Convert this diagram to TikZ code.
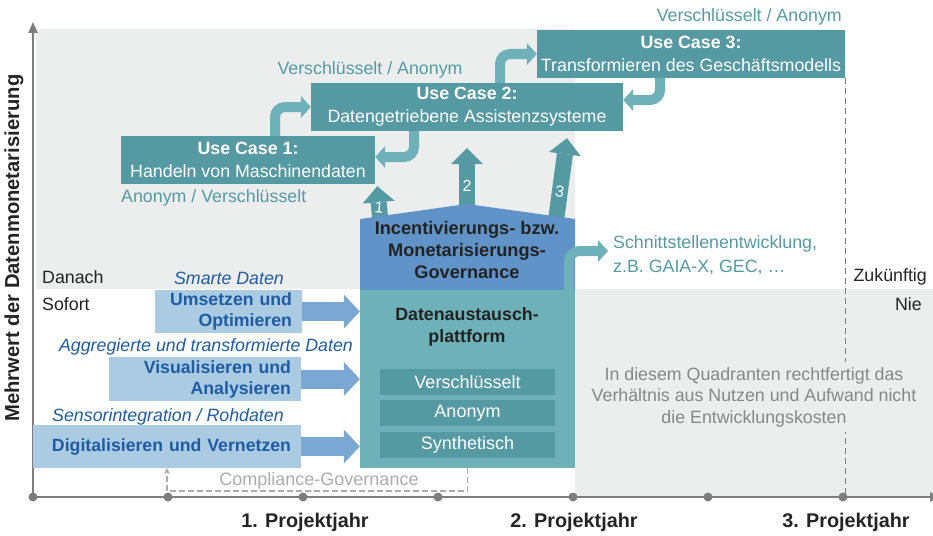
\documentclass[tikz,border=0pt]{standalone}
\usepackage{fontspec}
\setmainfont{Liberation Sans}
\usepackage{tikz}
\usetikzlibrary{positioning, arrows.meta}

\definecolor{bggray}{RGB}{236,237,237}
\definecolor{ucteal}{RGB}{85,153,163}
\definecolor{lteal}{RGB}{110,177,184}
\definecolor{noteteal}{RGB}{84,155,166}
\definecolor{govblue}{RGB}{96,148,200}
\definecolor{lblue}{RGB}{170,203,226}
\definecolor{ablue}{RGB}{123,167,211}
\definecolor{tblue}{RGB}{30,92,165}
\definecolor{axisgray}{RGB}{125,125,125}
\definecolor{compgray}{RGB}{172,172,172}
\definecolor{qgray}{RGB}{135,135,135}
\definecolor{darktext}{RGB}{35,35,35}

\begin{document}
\begin{tikzpicture}[x=1pt, y=-1pt,
  every node/.style={font=\fontsize{17.8}{22}\selectfont, inner sep=0pt},
  usecase/.style={fill=ucteal, text=white, align=center, minimum height=48pt,
                  font=\fontsize{17.8}{23}\selectfont},
  note/.style={text=noteteal},
  loopar/.style={draw=lteal, line width=10pt, rounded corners=10pt,
                 -{Triangle[length=10pt, width=22pt, line width=0pt]}},
  bigar/.style={draw=ucteal, line width=16pt,
                -{Triangle[length=16pt, width=32pt, line width=0pt]}},
  stepar/.style={draw=ablue, line width=19pt,
                 -{Triangle[length=16pt, width=34pt, line width=0pt]}},
  stepbox/.style={fill=lblue, text=tblue, align=right, inner xsep=10pt,
                  minimum height=43pt, font=\fontsize{17.7}{21}\selectfont\bfseries},
  steplbl/.style={text=tblue, font=\fontsize{17.8}{21}\selectfont\itshape},
  privbox/.style={fill=ucteal, text=white, minimum width=175pt, minimum height=26pt,
                  font=\fontsize{18}{21}\selectfont},
  numlbl/.style={text=white, font=\fontsize{16}{18}\selectfont},
  axisline/.style={draw=axisgray, line width=2pt},
  year/.style={text=darktext, font=\fontsize{19.8}{22}\selectfont\bfseries},
  plain/.style={text=darktext},
]
\useasboundingbox (0,0) rectangle (933,535);
% Quadranten
\fill[bggray] (36,29) rectangle (575,289);
\fill[bggray] (575,289) rectangle (933,496);

% Achsen
\coordinate (o) at (33,497);
\draw[axisline, -{Triangle[length=11pt, width=9pt]}] (o) -- (33,22);
\draw[axisline, -{Triangle[length=11pt, width=9pt]}] (o) -- (941,497);
\foreach \i in {0,...,6}
  \fill[axisgray] (33+135*\i,497) circle (4.5pt);
\foreach \x/\j in {305/1, 574/2, 846/3}
  \node[year] (year\j) at (\x,522) {\j. Projektjahr};
\node[rotate=90, text=darktext, font=\fontsize{20.2}{22}\selectfont\bfseries] (ylbl)
  at (14,248) {Mehrwert der Datenmonetarisierung};

\node[plain, anchor=west] (danach) at (42,277) {Danach};
\node[plain, anchor=west] (sofort) at (42,304) {Sofort};
\node[plain, anchor=east] (zukunft) at (927,277) {Zukünftig};
\node[plain, anchor=east] (nie) at (922,304) {Nie};

% Use Cases
\node[usecase, minimum width=254pt] (uc1) at (248,160) {{\bfseries Use Case 1:}\\Handeln von Maschinendaten};
\node[usecase, minimum width=312pt] (uc2) at (467,107) {{\bfseries Use Case 2:}\\Datengetriebene Assistenzsysteme};
\node[usecase, minimum width=308pt] (uc3) at (691,54) {{\bfseries Use Case 3:}\\Transformieren des Geschäftsmodells};

\node[note, anchor=west] (n1) at (121,198) {Anonym / Verschlüsselt};
\node[note] (n2) at (370,70) {Verschlüsselt / Anonym};
\node[note, anchor=east] (n3) at (842,17) {Verschlüsselt / Anonym};

\draw[loopar] ([xshift=27pt]uc1.north) |- (uc2.west);
\draw[loopar] ([xshift=-53pt]uc2.south) |- ([yshift=3pt]uc1.east);
\draw[loopar] ([xshift=33pt]uc2.north) |- (uc3.west);
\draw[loopar] ([xshift=-31pt]uc3.south) |- ([yshift=7pt]uc2.east);

\draw[axisgray, line width=1.2pt, dash pattern=on 6pt off 4pt] (uc3.south east) -- (uc3.south east |- o);

% Governance
\coordinate (peak) at (467,204);
\coordinate (g1) at (381,228);
\coordinate (g3) at (555,228);
\draw[bigar] (g1) -- node[numlbl, pos=0.48, rotate=-6] {1} ([shift={(2,2)}]uc1.south east);
\draw[bigar, shorten >=17pt] (peak |- g1) -- node[numlbl, pos=0.43] {2} (uc2.south);
\draw[bigar] (g3) -- node[numlbl, pos=0.4, rotate=-8] {3} ([shift={(100,7)}]uc2.south);

\fill[govblue] (360,219) -- (peak) -- (575,219) -- (575,290) -- (360,290) -- cycle;
\node[text=darktext, align=center, font=\fontsize{18.2}{22}\selectfont\bfseries] (gov)
  at (467,250) {Incentivierungs- bzw.\\Monetarisierungs-\\Governance};

% Plattform
\node[fill=lteal, minimum width=215pt, minimum height=178pt] (plat) at (467.5,379) {};
\node[text=darktext, align=center, font=\fontsize{17.8}{22}\selectfont\bfseries] (platlbl)
  at (467,327) {Datenaustausch-\\plattform};
\node[privbox] (enc) at (467.5,382) {Verschlüsselt};
\node[privbox, below=5pt of enc] (anon) {Anonym};
\node[privbox, below=5pt of anon] (synth) {Synthetisch};

\node[note, anchor=west, align=left, font=\fontsize{17.8}{24}\selectfont] (schn)
  at (613,255) {Schnittstellenentwicklung,\\z.B. GAIA-X, GEC, …};
\draw[loopar, shorten >=5pt] ([shift={(-6,10)}]plat.north east) |- ([yshift=4pt]schn.west);

% Stufen
\node[stepbox, minimum width=147pt, text width=127pt] (umsetzen) at (228.5,311.5) {Umsetzen und\\Optimieren};
\node[stepbox, minimum width=192pt, text width=172pt, minimum height=44pt] (visual) at (205,379) {Visualisieren und\\Analysieren};
\node[stepbox, minimum width=268pt, text width=248pt] (digital) at (167,446.5) {Digitalisieren und Vernetzen};
\foreach \b in {umsetzen, visual, digital}
  \draw[stepar] (\b.east) -- (\b.east -| plat.west);

\node[steplbl] (l1) at (229,278) {Smarte Daten};
\node[steplbl] (l2) at (206,347) {Aggregierte und transformierte Daten};
\node[steplbl] (l3) at (168,417) {Sensorintegration / Rohdaten};

% Compliance
\draw[compgray, line width=1.5pt, dash pattern=on 6pt off 3pt, -{Stealth[length=6pt, width=6pt]}]
  (plat.south) -- ++(0,23) -| (digital.south);
\node[text=compgray, font=\fontsize{18}{21}\selectfont] (compl) at (319,481) {Compliance-Governance};

\node[fill=bggray, text=qgray, align=center, inner sep=5pt, font=\fontsize{17.8}{21.5}\selectfont] (quad)
  at (754,397) {In diesem Quadranten rechtfertigt das\\Verhältnis aus Nutzen und Aufwand nicht\\die Entwicklungskosten};
\end{tikzpicture}
\end{document}
